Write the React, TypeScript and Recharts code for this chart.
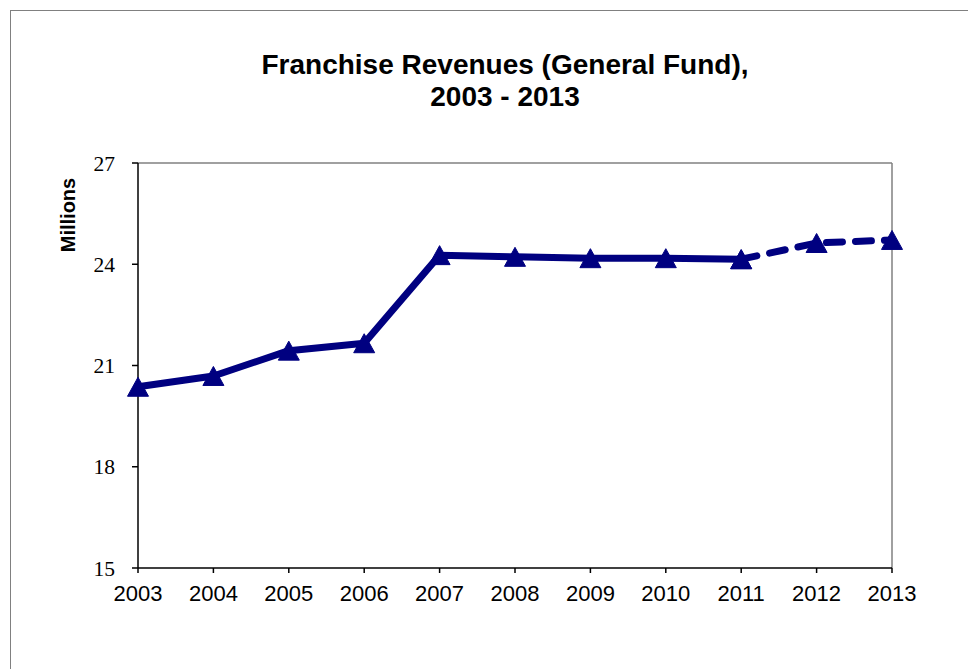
import React from 'react';
import { LineChart, Line, XAxis, YAxis, ReferenceLine } from 'recharts';

const years = ['2003', '2004', '2005', '2006', '2007', '2008', '2009', '2010', '2011', '2012', '2013'];
const actual = [20.37, 20.69, 21.44, 21.66, 24.27, 24.22, 24.18, 24.18, 24.15, null, null];
const projected = [null, null, null, null, null, null, null, null, 24.15, 24.63, 24.72];
const yTicks = [15, 18, 21, 24, 27];

const NAVY = '#000080';
const SANS = '"Liberation Sans", Arial, sans-serif';
const SERIF = '"Liberation Serif", "Times New Roman", serif';

const data = years.map((year, i) => ({ year, actual: actual[i], projected: projected[i] }));

const Triangle = (props: any) => {
  const { cx, cy, value } = props;
  if (value == null || cx == null || cy == null) return null;
  const w = 10.5;
  const h = 9.5;
  return (
    <path
      d={`M${cx},${cy - h} L${cx + w},${cy + h} L${cx - w},${cy + h} Z`}
      fill={NAVY}
      stroke={NAVY}
      strokeWidth={1}
    />
  );
};

export default function App() {
  return (
    <div style={{ position: 'absolute', left: 0, top: 0, width: 968, height: 669, overflow: 'hidden', background: '#fff' }}>
      {/* outer frame, runs off the right and bottom edges */}
      <div
        style={{
          position: 'absolute',
          left: 10,
          top: 10,
          width: 1000,
          height: 700,
          borderLeft: '1px solid #808080',
          borderTop: '1px solid #808080',
        }}
      />
      <div
        style={{
          position: 'absolute',
          left: 0,
          top: 49,
          width: 1010,
          textAlign: 'center',
          fontFamily: SANS,
          fontWeight: 'bold',
          fontSize: 28,
          lineHeight: '32px',
        }}
      >
        Franchise Revenues (General Fund),
        <br />
        2003 - 2013
      </div>
      <div style={{ position: 'absolute', left: 0, top: 0 }}>
        <LineChart width={968} height={669} data={data} margin={{ top: 163, right: 76, bottom: 61, left: 78 }}>
          <ReferenceLine y={27} stroke="#808080" strokeWidth={1.5} />
          <ReferenceLine x="2013" stroke="#808080" strokeWidth={1.5} />
          <XAxis
            dataKey="year"
            height={40}
            stroke="#000"
            strokeWidth={1.5}
            tickSize={5}
            tickMargin={12}
            fontSize={22}
            tick={{ fill: '#000', fontSize: 22, fontFamily: SANS }}
          />
          <YAxis
            domain={[15, 27]}
            ticks={yTicks}
            width={60}
            stroke="#000"
            strokeWidth={1.5}
            tickSize={6}
            tickMargin={17}
            fontSize={21.5}
            tick={{ fill: '#000', fontSize: 21.5, fontFamily: SERIF }}
            label={{
              value: 'Millions',
              content: () => (
                <text
                  x={68}
                  y={215}
                  transform="rotate(-90 68 215)"
                  textAnchor="middle"
                  dominantBaseline="central"
                  fontFamily={SANS}
                  fontWeight="bold"
                  fontSize={20}
                  fill="#000"
                >
                  Millions
                </text>
              ),
            }}
          />
          <Line
            dataKey="actual"
            stroke={NAVY}
            strokeWidth={7}
            strokeLinejoin="round"
            dot={<Triangle />}
            activeDot={false}
            connectNulls={false}
            isAnimationActive={false}
          />
          <Line
            dataKey="projected"
            stroke={NAVY}
            strokeWidth={7}
            strokeDasharray="16 13"
            strokeLinecap="round"
            dot={<Triangle />}
            activeDot={false}
            connectNulls={false}
            isAnimationActive={false}
          />
        </LineChart>
      </div>
    </div>
  );
}
